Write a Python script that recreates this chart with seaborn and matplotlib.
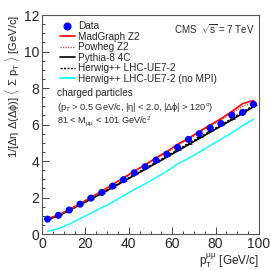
import numpy as np
import pandas as pd
import seaborn as sns
import matplotlib.pyplot as plt
from matplotlib.lines import Line2D
from matplotlib.ticker import MultipleLocator

# pT bin centres
pt = [2.5, 7.5, 12.5, 17.5, 22.5, 27.5, 32.5, 37.5, 42.5, 47.5,
      52.5, 57.5, 62.5, 67.5, 72.5, 77.5, 82.5, 87.5, 92.5, 97.5]

data = [0.82, 1.03, 1.32, 1.64, 1.97, 2.28, 2.63, 2.98, 3.36, 3.69,
        4.05, 4.38, 4.75, 5.19, 5.50, 5.82, 6.06, 6.52, 6.67, 7.11]
madgraph = [0.84, 1.05, 1.34, 1.67, 2.01, 2.35, 2.72, 3.08, 3.45, 3.80,
            4.17, 4.52, 4.92, 5.25, 5.62, 5.98, 6.32, 6.72, 7.15, 7.32]
powheg = [0.84, 1.04, 1.33, 1.66, 2.00, 2.33, 2.69, 3.04, 3.41, 3.76,
          4.12, 4.47, 4.85, 5.20, 5.56, 5.92, 6.25, 6.62, 7.00, 7.20]
pythia = [0.80, 1.00, 1.30, 1.60, 1.92, 2.22, 2.55, 2.88, 3.22, 3.55,
          3.88, 4.22, 4.56, 4.90, 5.24, 5.58, 5.92, 6.26, 6.62, 6.98]
herwig = [0.82, 1.02, 1.32, 1.63, 1.95, 2.26, 2.59, 2.92, 3.27, 3.60,
          3.94, 4.28, 4.62, 4.96, 5.30, 5.64, 5.98, 6.33, 6.70, 7.05]
herwig_nompi = [0.15, 0.30, 0.55, 0.85, 1.15, 1.45, 1.75, 2.10, 2.45, 2.75,
                3.10, 3.45, 3.85, 4.15, 4.50, 4.85, 5.20, 5.55, 5.95, 6.30]

sns.set_style("ticks")
plt.rcParams['font.family'] = ['Liberation Sans', 'DejaVu Sans']
plt.rcParams['mathtext.fontset'] = 'custom'
plt.rcParams['mathtext.rm'] = 'Liberation Sans'
plt.rcParams['mathtext.it'] = 'Liberation Sans'

fig = plt.figure(figsize=(2.7, 2.7), dpi=100)
ax = fig.add_axes([0.156, 0.133, 0.803, 0.811])

df = pd.DataFrame({"pt": pt, "data": data, "madgraph": madgraph, "powheg": powheg,
                   "pythia": pythia, "herwig": herwig, "nompi": herwig_nompi})

sns.lineplot(data=df, x="pt", y="nompi", color="#00ffff", lw=1.0, ax=ax)
sns.lineplot(data=df, x="pt", y="pythia", color="black", lw=1.2, ax=ax)
sns.lineplot(data=df, x="pt", y="herwig", color="black", lw=1.0, ls=(0, (1.5, 1)), ax=ax)
ax.errorbar(pt, herwig, yerr=0.06, xerr=1.5, fmt="none", ecolor="black", lw=0.6)
sns.lineplot(data=df, x="pt", y="madgraph", color="red", lw=1.2, ax=ax)
sns.lineplot(data=df, x="pt", y="powheg", color="#c04040", lw=0.9, ls=(0, (1, 1)), ax=ax)
sns.scatterplot(data=df, x="pt", y="data", color="blue", s=26, edgecolor="none", zorder=5, ax=ax)

ax.set_xlim(0, 100)
ax.set_ylim(0, 12)
ax.xaxis.set_major_locator(MultipleLocator(20))
ax.xaxis.set_minor_locator(MultipleLocator(5))
ax.yaxis.set_major_locator(MultipleLocator(2))
ax.yaxis.set_minor_locator(MultipleLocator(0.5))
ax.tick_params(which="both", direction="in", labelsize=10, pad=2)
ax.tick_params(which="major", length=5, width=0.6)
ax.tick_params(which="minor", length=2.5, width=0.6)
for s in ax.spines.values():
    s.set_linewidth(0.8)
    s.set_color("#555555")

ax.set_xlabel(r"$\mathrm{p_T^{\mu\mu}}$ [GeV/c]", fontsize=8.5, loc="right", labelpad=0)
ax.set_ylabel(r"1/[$\Delta\eta$ $\Delta(\Delta\phi)$] $\langle$ $\Sigma$ $\mathrm{p_T}$ $\rangle$ [GeV/c]",
              fontsize=8, loc="top", labelpad=1)

handles = [
    Line2D([], [], marker="o", color="blue", ls="none", ms=4.8),
    Line2D([], [], color="red", lw=1.2),
    Line2D([], [], color="#c04040", lw=0.9, ls=(0, (1, 1))),
    Line2D([], [], color="black", lw=1.2),
    Line2D([], [], color="black", lw=1.0, ls=(0, (1.5, 1))),
    Line2D([], [], color="#00ffff", lw=1.2),
]
labels = ["Data", "MadGraph Z2", "Powheg Z2", "Pythia-8 4C",
          "Herwig++ LHC-UE7-2", "Herwig++ LHC-UE7-2 (no MPI)"]
ax.legend(handles, labels, loc="upper left", bbox_to_anchor=(0.065, 0.99), frameon=False,
          fontsize=7.2, handlelength=1.45, handletextpad=0.3, labelspacing=0.05, borderaxespad=0)

ax.text(0.98, 0.965, r"CMS  $\sqrt{\mathrm{s}}$ = 7 TeV", transform=ax.transAxes,
        ha="right", va="top", fontsize=7)
ax.text(0.07, 0.645, "charged particles", transform=ax.transAxes, fontsize=7.2, va="center")
ax.text(0.07, 0.578, r"($\mathrm{p_T}$ > 0.5 GeV/c, |$\eta$| < 2.0, |$\Delta\phi$| > 120$^\mathrm{o}$)",
        transform=ax.transAxes, fontsize=6.6, va="center")
ax.text(0.07, 0.514, r"81 < $\mathrm{M_{\mu\mu}}$ < 101 GeV/c$^2$", transform=ax.transAxes,
        fontsize=6.6, va="center")

fig.savefig("out.png", dpi=100)
